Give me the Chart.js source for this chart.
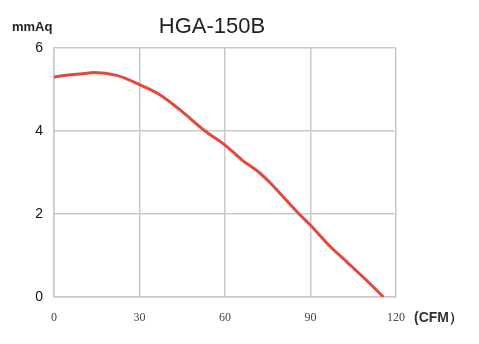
<!DOCTYPE html>
<html>
<head>
<meta charset="utf-8">
<script src="https://cdn.jsdelivr.net/npm/chart.js@4"></script>
<style>
  html, body { margin: 0; padding: 0; background: #fff; }
  #wrap { width: 479px; height: 344px; position: relative; }
</style>
</head>
<body>
<div id="wrap"><canvas id="fan-chart" width="479" height="344"></canvas></div>
<script>
// Data z grafu (průtok CFM / tlak mmAq)
const flowCfm = [0, 5, 10, 14, 22, 30, 37, 44, 53, 60, 66, 72, 76, 79, 86, 90, 97, 103, 110, 115.6];
const pressure = [5.30, 5.35, 5.38, 5.41, 5.34, 5.12, 4.88, 4.52, 4.00, 3.66, 3.30, 3.00, 2.74, 2.52, 2.00, 1.73, 1.21, 0.83, 0.38, 0];
const xTicks = [0, 30, 60, 90, 120];
const yTicks = [0, 2, 4, 6];
const chartTitle = 'HGA-150B';
const yUnit = 'mmAq';
const xUnit = '(CFM）';

// Popisky mimo osy
const labelsPlugin = {
    id: 'extraLabels',
    afterDraw(chart) {
        const ctx = chart.ctx;
        const area = chart.chartArea;
        ctx.save();
        ctx.fillStyle = '#222';
        ctx.textBaseline = 'middle';
        ctx.textAlign = 'center';
        ctx.font = '22px "Liberation Sans", Arial, sans-serif';
        ctx.fillText(chartTitle, 212, 27);
        ctx.textAlign = 'left';
        ctx.font = 'bold 13px "Liberation Sans", Arial, sans-serif';
        ctx.fillText(yUnit, 12, 27);
        ctx.font = 'bold 14px "Liberation Sans", Arial, sans-serif';
        ctx.fillStyle = '#333';
        ctx.fillText(xUnit, area.right + 18, 318);
        ctx.restore();
    }
};

const ctx = document.getElementById('fan-chart').getContext('2d');
new Chart(ctx, {
    type: 'line',
    data: {
        datasets: [{
            data: flowCfm.map((x, i) => ({ x: x, y: pressure[i] })),
            borderColor: '#e2493b',
            borderWidth: 3,
            pointRadius: 0,
            cubicInterpolationMode: 'monotone',
            fill: false
        }]
    },
    options: {
        responsive: false,
        animation: false,
        layout: { padding: { top: 48, right: 83, left: 0, bottom: 0 } },
        plugins: {
            legend: { display: false },
            tooltip: { enabled: false }
        },
        scales: {
            x: {
                type: 'linear',
                min: 0,
                max: 120,
                afterBuildTicks: s => { s.ticks = xTicks.map(v => ({ value: v })); },
                afterFit: s => { s.height = 47; },
                grid: { color: '#c9c9c9', lineWidth: 1.5, drawTicks: false },
                border: { color: '#c9c9c9', width: 1.5 },
                ticks: {
                    padding: 14,
                    color: '#444',
                    font: { family: '"Liberation Serif", "DejaVu Serif", serif', size: 12 }
                }
            },
            y: {
                min: 0,
                max: 6,
                afterBuildTicks: s => { s.ticks = yTicks.map(v => ({ value: v })); },
                afterFit: s => { s.width = 54; },
                grid: { color: '#c9c9c9', lineWidth: 1.5, drawTicks: false },
                border: { color: '#c9c9c9', width: 1.5 },
                ticks: {
                    padding: 11,
                    color: '#111',
                    font: { family: '"Liberation Sans", Arial, sans-serif', size: 14 }
                }
            }
        }
    },
    plugins: [labelsPlugin]
});
</script>
</body>
</html>
